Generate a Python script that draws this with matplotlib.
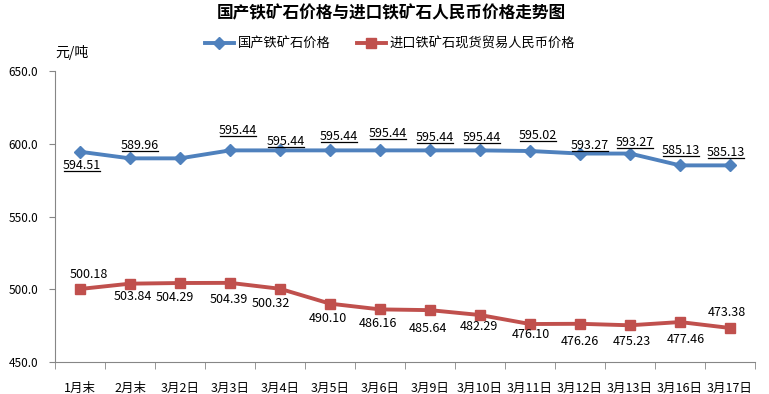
import matplotlib
matplotlib.use("Agg")
import matplotlib.pyplot as plt
from matplotlib.lines import Line2D
from matplotlib import ticker

plt.rcParams['font.family'] = ['Noto Sans CJK SC', 'DejaVu Sans']

dates = ['1月末', '2月末', '3月2日', '3月3日', '3月4日', '3月5日', '3月6日',
         '3月9日', '3月10日', '3月11日', '3月12日', '3月13日', '3月16日', '3月17日']
domestic = [594.51, 589.96, 589.96, 595.44, 595.44, 595.44, 595.44,
            595.44, 595.44, 595.02, 593.27, 593.27, 585.13, 585.13]
imported = [500.18, 503.84, 504.29, 504.39, 500.32, 490.10, 486.16,
            485.64, 482.29, 476.10, 476.26, 475.23, 477.46, 473.38]
# which domestic points carry a label in the original
domestic_labeled = [True, True, False] + [True] * 11

# label offsets in pixels (dx, dy)
dom_off = [(2, -14), (10, 13), (0, 0), (8, 20), (6, 9), (9, 14), (8, 17),
           (5, 13), (2, 13), (8, 15), (10, 8), (5, 11), (1, 15), (-4, 13)]
imp_off = [(9, 14), (3, -13), (-5, -14), (-1, -17), (-9, -15), (-2, -15), (-2, -14),
           (-2, -18), (-1, -11), (1, -10), (0, -18), (2, -16), (6, -17), (-3, 15)]

blue = '#4F81BD'
red = '#C0504D'

fig = plt.figure(figsize=(7.69, 3.94), dpi=100)
ax = fig.add_axes([55 / 769, 32 / 394, 700 / 769, 291 / 394])

x = list(range(len(dates)))
ax.plot(x, domestic, color=blue, lw=2.8, marker='D', ms=6, label='国产铁矿石价格')
ax.plot(x, imported, color=red, lw=2.8, marker='s', ms=7.5, label='进口铁矿石现货贸易人民币价格')

ax.set_xlim(-0.5, len(dates) - 0.5)
ax.set_ylim(450, 650)
ax.yaxis.set_major_locator(ticker.MultipleLocator(50))
ax.yaxis.set_major_formatter(ticker.FormatStrFormatter('%.1f'))

ax.set_xticks(x)
ax.set_xticklabels(dates)
ax.set_xticks([i + 0.5 for i in range(-1, len(dates))], minor=True)
ax.tick_params(axis='x', which='major', length=0, labelsize=9, pad=14)
ax.tick_params(axis='x', which='minor', length=5, color='#868686', direction='out')
ax.tick_params(axis='y', length=4, color='#868686', labelsize=8.5, pad=8)

for s in ['top', 'right']:
    ax.spines[s].set_visible(False)
for s in ['left', 'bottom']:
    ax.spines[s].set_color('#868686')

dom_texts = []
for i, v in enumerate(domestic):
    if not domestic_labeled[i]:
        continue
    t = ax.annotate('%.2f' % v, (i, v), xytext=dom_off[i], textcoords='offset pixels',
                    ha='center', va='center', fontsize=9, color='black')
    dom_texts.append(t)
for i, v in enumerate(imported):
    ax.annotate('%.2f' % v, (i, v), xytext=imp_off[i], textcoords='offset pixels',
                ha='center', va='center', fontsize=9, color='black')

fig.text(391 / 769, 1 - 13 / 394, '国产铁矿石价格与进口铁矿石人民币价格走势图',
         ha='center', va='center', fontsize=12, fontweight='bold')
fig.text(72 / 769, 1 - 52 / 394, '元/吨', ha='center', va='center', fontsize=10)

fig.legend(loc='center', bbox_to_anchor=(390 / 769, 1 - 44 / 394), ncol=2, frameon=False,
           fontsize=9.5, handlelength=2.2, columnspacing=2.0, handletextpad=0.3)

# underline the domestic labels
fig.canvas.draw()
r = fig.canvas.get_renderer()
inv = fig.transFigure.inverted()
for t in dom_texts:
    bb = t.get_window_extent(r)
    (x0, y0), (x1, _) = inv.transform([(bb.x0 + 1, bb.y0 + 1), (bb.x1 - 1, bb.y0 + 1)])
    fig.add_artist(Line2D([x0, x1], [y0, y0], transform=fig.transFigure,
                          color='black', lw=0.9))

fig.savefig('out.png', dpi=100)
